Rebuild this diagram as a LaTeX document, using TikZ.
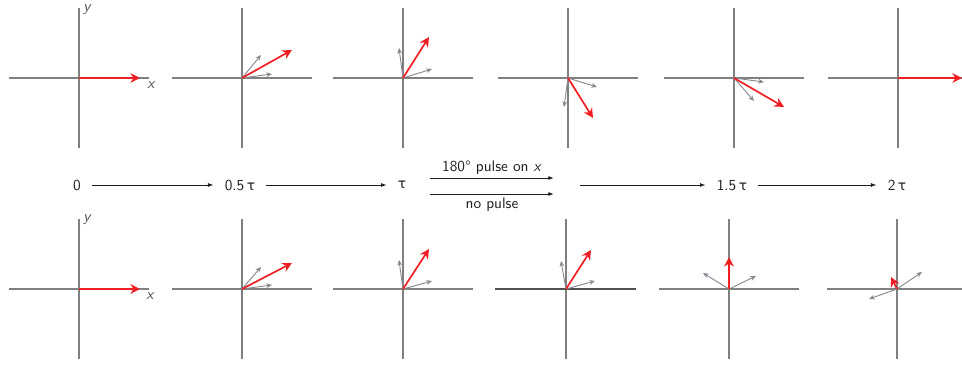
\documentclass[tikz,border=0pt]{standalone}
\usepackage{fontspec}
\newfontfamily\taufont{DejaVu Sans}
\usetikzlibrary{arrows.meta,positioning}
\definecolor{axisgray}{RGB}{128,128,128}
\definecolor{darkaxis}{RGB}{80,80,80}
\definecolor{spinred}{RGB}{240,30,35}
\definecolor{isogray}{RGB}{135,135,145}
\definecolor{ink}{RGB}{30,30,30}
\newcommand{\tautime}{{\taufont\fontsize{9}{10}\selectfont τ}}
\tikzset{
  axis/.style={draw=axisgray,line width=1pt},
  spin/.style={-{Stealth[length=2.2mm,width=2.2mm]},draw=spinred,line width=1.1pt},
  iso/.style={-{Stealth[length=1.3mm,width=1.1mm]},draw=isogray,line width=0.6pt},
  tl/.style={-{Latex[length=1.3mm,width=0.9mm]},draw=ink,line width=0.6pt},
  stamp/.style={font=\sffamily,text=ink,inner xsep=2.5mm},
  note/.style={font=\sffamily,text=ink,inner sep=1pt},
  lbl/.style={font=\sffamily\itshape,text=ink!80,inner sep=0pt},
  % one pair of axes
  pics/frame/.style={code={
    \draw[axis] (-70,0) -- (70,0);
    \draw[axis] (0,-70) -- (0,70);
  }},
}

\begin{document}
\begin{tikzpicture}[x=0.23mm,y=0.23mm]
  \useasboundingbox (0,0) rectangle (962,365);
  % axes, upper row (180 pulse) and lower row (no pulse)
  \foreach \ox in {79,242,403,568,734,898} \pic at (\ox,287) {frame};
  \foreach \ox in {79,242,403,566,729,897} \pic at (\ox,76) {frame};
  \draw[axis,draw=darkaxis] (495,76) -- (636,76);
  \node[lbl] (xa) at (151,280) {x};
  \node[lbl] (ya) at (87,355) {y};
  \node[lbl] (xb) at (150,69) {x};
  \node[lbl] (yb) at (87,145) {y};
  % isochromats
  \foreach \ox/\oy/\ax/\ay/\bx/\by in {242/287/19/23/30/4, 403/287/-4/30/29/9,
      568/287/-4/-29/29/-9, 734/287/20/-23/30/-4, 242/76/19/22/30/4,
      403/76/-4/29/29/8, 566/76/-5/28/29/8, 729/76/-26/16/27/13, 897/76/-28/-10/25/17} {
    \draw[iso] (\ox,\oy) -- ++(\ax,\ay);
    \draw[iso] (\ox,\oy) -- ++(\bx,\by);
  }
  % net magnetisation
  \foreach \ox/\oy/\rx/\ry in {79/287/61/0, 242/287/50/28, 403/287/26/41, 568/287/25/-40,
      734/287/50/-29, 898/287/64/0, 79/76/61/0, 242/76/50/26, 403/76/26/40,
      566/76/25/39, 729/76/0/32, 897/76/-6/12} {
    \draw[spin] (\ox,\oy) -- ++(\rx,\ry);
  }
  % time line
  \node[stamp] (t0) at (77,180) {0};
  \node[stamp] (t1) at (240,180) {0.5\,\tautime};
  \node[stamp] (t2) at (402,180) {\tautime};
  \node[stamp] (t3) at (732,180) {1.5\,\tautime};
  \node[stamp] (t4) at (897,180) {2\,\tautime};
  \coordinate (pa) at (430,187);
  \coordinate (pb) at (554,187);
  \coordinate (pc) at (430,171);
  \coordinate (pd) at (554,171);
  \coordinate (pe) at (580,180);
  \draw[tl] (t0) -- (t1);
  \draw[tl] (t1) -- (t2);
  \draw[tl] (pa) -- node[note,above=1pt] (pulse) {180° pulse on \textit{x}} (pb);
  \draw[tl] (pc) -- node[note,below=1pt] (nopulse) {no pulse} (pd);
  \draw[tl] (pe) -- (t3);
  \draw[tl] (t3) -- (t4);
\end{tikzpicture}
\end{document}
